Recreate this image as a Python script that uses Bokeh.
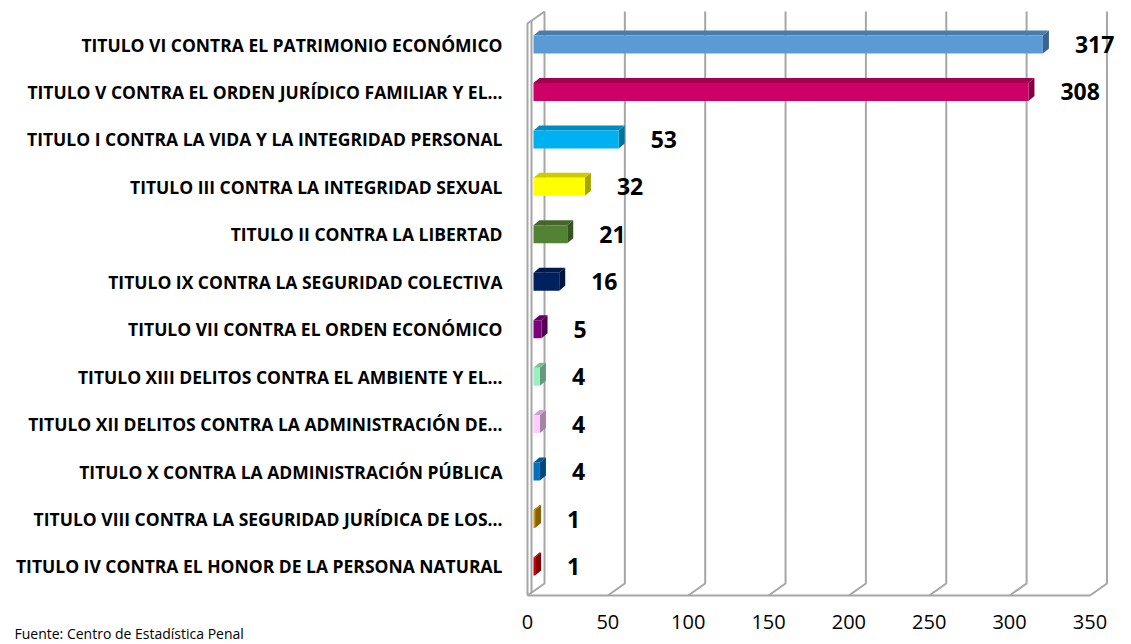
from bokeh.plotting import figure
from bokeh.models import Range1d, FixedTicker, Title
from bokeh.core.properties import value
from bokeh.embed import file_html
from bokeh.resources import INLINE

# ---------------- data ----------------
categories = [
    "TITULO VI CONTRA EL PATRIMONIO ECONÓMICO",
    "TITULO V CONTRA EL ORDEN JURÍDICO FAMILIAR Y EL…",
    "TITULO I CONTRA LA VIDA Y LA INTEGRIDAD PERSONAL",
    "TITULO III CONTRA LA INTEGRIDAD SEXUAL",
    "TITULO II CONTRA LA LIBERTAD",
    "TITULO IX CONTRA LA SEGURIDAD COLECTIVA",
    "TITULO VII CONTRA EL ORDEN ECONÓMICO",
    "TITULO XIII DELITOS CONTRA EL AMBIENTE Y EL…",
    "TITULO XII DELITOS CONTRA LA ADMINISTRACIÓN DE…",
    "TITULO X CONTRA LA ADMINISTRACIÓN PÚBLICA",
    "TITULO VIII CONTRA LA SEGURIDAD JURÍDICA DE LOS…",
    "TITULO IV CONTRA EL HONOR DE LA PERSONA NATURAL",
]
values = [317, 308, 53, 32, 21, 16, 5, 4, 4, 4, 1, 1]
colors = ["#5B9BD5", "#CC0066", "#00B0F0", "#FFFF00", "#548235", "#002060",
          "#7F007F", "#99F0C0", "#FFCCFF", "#0070C0", "#CC9900", "#CC0000"]
x_ticks = [0, 50, 100, 150, 200, 250, 300, 350]
footer = "Fuente: Centro de Estadística Penal"

# ---------------- geometry / style ----------------
W, H = 1115, 640
PX = 1.607          # pixels per value unit
RY = 47.45          # pixels per category row
ML, MT, MB = 524, 9, 43
LEFT_PAD = 3        # px between frame edge and front wall
FRAME_H = H - MT - MB
Y_TOP = -35 / RY    # row units at frame top (row 0 centre 35px below)
Y_BOT = Y_TOP + FRAME_H / RY
X0 = -LEFT_PAD / PX
X1 = X0 + (W - ML) / PX


def px2x(p):
    return p / PX


def py2y(p):
    return p / RY


WALL_DX, WALL_DY = px2x(17), py2y(12)
FRONT_FLOOR = Y_BOT - py2y(2)
BACK_FLOOR = FRONT_FLOOR - WALL_DY
BACK_TOP = Y_TOP + py2y(2)
FRONT_TOP = BACK_TOP + WALL_DY

BAR_X0 = px2x(6)
BAR_H = py2y(18)
BAR_DX, BAR_DY = px2x(6), py2y(5)
GRID = "#A6A6A6"


def shade(hex_color, f):
    h = hex_color.lstrip("#")
    r, g, b = (int(h[i:i + 2], 16) for i in (0, 2, 4))
    return "#%02x%02x%02x" % (int(r * f), int(g * f), int(b * f))


p = figure(width=W, height=H, output_backend="svg", toolbar_location=None,
           x_range=Range1d(X0, X1), y_range=Range1d(Y_BOT, Y_TOP),
           min_border_left=ML, min_border_right=0, min_border_top=MT,
           min_border_bottom=MB, outline_line_color=None)
p.xgrid.visible = False
p.ygrid.visible = False

# ---- walls and floor ----
xs, ys = [], []
for t in x_ticks:
    xs.append([t, t + WALL_DX, t + WALL_DX])
    ys.append([FRONT_FLOOR, BACK_FLOOR, BACK_TOP])
xs.append([0, x_ticks[-1]])
ys.append([FRONT_FLOOR, FRONT_FLOOR])
xs.append([0, 0, WALL_DX])
ys.append([FRONT_FLOOR, FRONT_TOP, BACK_TOP])
xs.append([px2x(4), px2x(4)])
ys.append([FRONT_FLOOR - py2y(3), FRONT_TOP - py2y(3)])
p.multi_line(xs, ys, line_color=GRID, line_width=2)

# ---- 3D bars ----
rows = list(range(len(categories)))
front_xs, front_ys, top_xs, top_ys, side_xs, side_ys = [], [], [], [], [], []
fc, tc, sc = [], [], []
for r, v, c in zip(rows, values, colors):
    l, rr = BAR_X0, BAR_X0 + v
    t, b = r - BAR_H / 2, r + BAR_H / 2
    front_xs.append([l, rr, rr, l]); front_ys.append([t, t, b, b])
    top_xs.append([l, rr, rr + BAR_DX, l + BAR_DX]); top_ys.append([t, t, t - BAR_DY, t - BAR_DY])
    side_xs.append([rr, rr + BAR_DX, rr + BAR_DX, rr]); side_ys.append([t, t - BAR_DY, b - BAR_DY, b])
    fc.append(c); tc.append(shade(c, 0.8)); sc.append(shade(c, 0.65))
p.patches(side_xs, side_ys, fill_color=sc, line_color=None)
p.patches(top_xs, top_ys, fill_color=tc, line_color=None)
p.patches(front_xs, front_ys, fill_color=fc, line_color=None)

# ---- value labels ----
lab_x = [BAR_X0 + v + BAR_DX + px2x(26) for v in values]
p.text(lab_x, rows, text=[str(v) for v in values], text_align="left",
       text_baseline="middle", text_font=value("Open Sans"),
       text_font_style="bold", text_font_size="23px", text_color="#000000")

# ---- axes ----
p.yaxis.ticker = FixedTicker(ticks=rows)
p.yaxis.major_label_overrides = {r: c for r, c in zip(rows, categories)}
p.yaxis.axis_line_color = None
p.yaxis.major_tick_line_color = None
p.yaxis.minor_tick_line_color = None
p.yaxis.major_label_standoff = 16
p.yaxis.major_label_text_font = "Open Sans"
p.yaxis.major_label_text_font_style = "bold"
p.yaxis.major_label_text_font_size = "17.5px"
p.yaxis.major_label_text_color = "#000000"

p.xaxis.ticker = FixedTicker(ticks=x_ticks)
p.xaxis.axis_line_color = None
p.xaxis.major_tick_line_color = None
p.xaxis.minor_tick_line_color = None
p.xaxis.major_label_standoff = 11
p.xaxis.major_label_text_font = "Open Sans"
p.xaxis.major_label_text_font_size = "20px"
p.xaxis.major_label_text_color = "#000000"

p.add_layout(Title(text=footer, align="left", offset=-(ML - 14), standoff=-22,
                   text_font="Open Sans", text_font_size="14px",
                   text_font_style="normal", text_color="#000000"), "below")

open("out.html", "w").write(file_html(p, INLINE))
